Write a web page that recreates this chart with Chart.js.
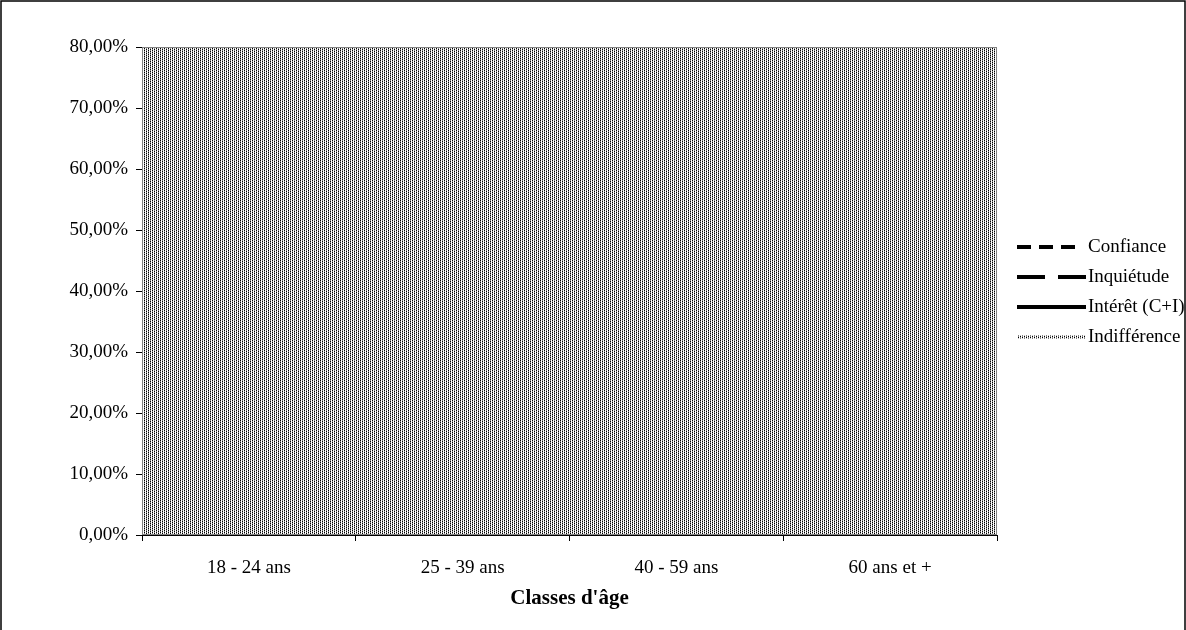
<!DOCTYPE html>
<html>
<head>
<meta charset="utf-8">
<script src="https://cdn.jsdelivr.net/npm/chart.js@4"></script>
<style>
html,body{margin:0;padding:0;background:#fff;}
#wrap{position:relative;width:1186px;height:630px;}
</style>
</head>
<body>
<div id="wrap"><canvas id="c" width="1186" height="630"></canvas></div>
<script>
const categories = ["18 - 24 ans", "25 - 39 ans", "40 - 59 ans", "60 ans et +"];
const confiance = [null, null, null, null];
const inquietude = [null, null, null, null];
const interet = [null, null, null, null];
const indifference = [null, null, null, null];
const yTicks = [0, 10, 20, 30, 40, 50, 60, 70, 80];
const xTitle = "Classes d'âge";

function makePattern(ctx) {
  const p = document.createElement('canvas');
  p.width = 4; p.height = 4;
  const g = p.getContext('2d');
  g.fillStyle = '#ffffff';
  g.fillRect(0, 0, 4, 4);
  g.fillStyle = '#000000';
  g.fillRect(0, 0, 1, 1); g.fillRect(0, 2, 1, 1);
  g.fillRect(2, 1, 1, 1); g.fillRect(2, 3, 1, 1);
  g.fillStyle = '#8a8a8a';
  g.fillRect(0, 1, 1, 1); g.fillRect(0, 3, 1, 1);
  g.fillRect(2, 0, 1, 1); g.fillRect(2, 2, 1, 1);
  return ctx.createPattern(p, 'repeat');
}

const canvas = document.getElementById('c');
const ctx0 = canvas.getContext('2d');
const pattern = makePattern(ctx0);

const FONT = "'Liberation Serif', 'Times New Roman', serif";

const plotDecor = {
  id: 'plotDecor',
  beforeDatasetsDraw(chart) {
    const {ctx, chartArea: a} = chart;
    ctx.save();
    ctx.fillStyle = pattern;
    ctx.fillRect(a.left, a.top, a.right - a.left, a.bottom - a.top);
    ctx.strokeStyle = '#808080';
    ctx.lineWidth = 1;
    ctx.strokeRect(a.left + 0.5, a.top + 0.5, a.right - a.left - 1, a.bottom - a.top - 1);
    ctx.restore();
  },
  afterDraw(chart) {
    const {ctx} = chart;
    ctx.save();
    // outer frame
    ctx.strokeStyle = '#000';
    ctx.lineWidth = 1.5;
    ctx.strokeRect(1, 1, 1184, 660);
    // legend
    const x0 = 1017, yStart = 247, dy = 30;
    ctx.font = "19px " + FONT;
    ctx.textBaseline = 'middle';
    ctx.fillStyle = '#000';
    chart.data.datasets.forEach((ds, i) => {
      const y = yStart + i * dy;
      ctx.save();
      ctx.strokeStyle = ds.legendStroke || ds.borderColor;
      ctx.lineWidth = ds.legendWidth || ds.borderWidth;
      ctx.setLineDash(ds.borderDash || []);
      ctx.beginPath();
      ctx.moveTo(x0, y);
      ctx.lineTo(ds.legendEnd || 1086, y);
      ctx.stroke();
      ctx.restore();
      ctx.fillText(ds.label, 1088, y);
    });
    ctx.restore();
  }
};

new Chart(canvas, {
  type: 'line',
  data: {
    labels: categories,
    datasets: [
      {label: 'Confiance', data: confiance, borderColor: '#000', borderWidth: 4, borderDash: [14, 8], legendEnd: 1075, pointRadius: 0, fill: false},
      {label: 'Inquiétude', data: inquietude, borderColor: '#000', borderWidth: 4, borderDash: [28, 13], pointRadius: 0, fill: false},
      {label: 'Intérêt (C+I)', data: interet, borderColor: '#000', borderWidth: 4, pointRadius: 0, fill: false},
      {label: 'Indifférence', data: indifference, borderColor: pattern, legendStroke: pattern, borderWidth: 3, pointRadius: 0, fill: false}
    ]
  },
  options: {
    responsive: false,
    animation: false,
    devicePixelRatio: 1,
    layout: {padding: {left: 0, right: 189, top: 47, bottom: 0}},
    plugins: {legend: {display: false}, tooltip: {enabled: false}},
    scales: {
      x: {
        type: 'category',
        offset: true,
        grid: {offset: true, drawOnChartArea: false, tickLength: 6, color: '#000', lineWidth: 1},
        border: {color: '#000', width: 1},
        ticks: {color: '#000', font: {family: FONT, size: 19}, padding: 16, maxRotation: 0},
        title: {display: true, text: xTitle, color: '#000', font: {family: FONT, size: 21, weight: 'bold'}, padding: {top: 4, bottom: 19}},
        afterFit(scale) { scale.height = 95; }
      },
      y: {
        min: 0, max: 80,
        afterBuildTicks(scale) { scale.ticks = yTicks.map(v => ({value: v})); },
        grid: {drawOnChartArea: false, tickLength: 6, color: '#000', lineWidth: 1},
        border: {color: '#000', width: 1},
        ticks: {color: '#000', font: {family: FONT, size: 19}, padding: 8,
          callback: v => v.toFixed(2).replace('.', ',') + '%'},
        afterFit(scale) { scale.width = 142; }
      }
    }
  },
  plugins: [plotDecor]
});
</script>
</body>
</html>
